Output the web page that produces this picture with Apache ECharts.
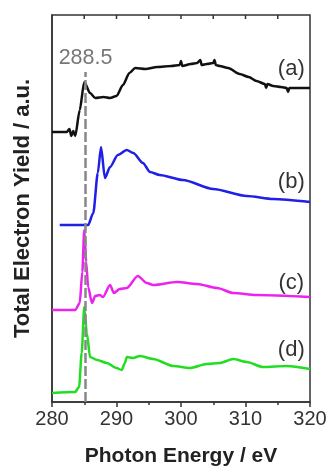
<!DOCTYPE html>
<html>
<head>
<meta charset="utf-8">
<script src="https://cdn.jsdelivr.net/npm/echarts@6/dist/echarts.min.js"></script>
<style>
html, body { margin: 0; padding: 0; background: #fff; }
#chart { width: 329px; height: 466px; }
</style>
</head>
<body>
<div id="chart"></div>
<script>
// spectra as [photon energy (eV), offset intensity (a.u.)]
var curveA = [[280,270],[282.3,270],[282.7,273],[283.0,266],[283.3,271],[283.6,266],[284.3,292],[285.0,320],[285.9,309],[286.7,304],
  [288.0,305],[289.0,304],[290.0,306],[291.0,317],[292.0,329],[292.9,334],[294.5,333],[296.3,335],[298.5,336],[299.8,337],
  [300.0,341],[300.2,336],[301.5,338],[302.5,339],[303.0,342],[303.2,337],[304.0,338],[305.0,339],[305.2,342],[305.4,337],
  [306.0,336],[307.3,334],[309.1,328],[310.5,325],[311.7,321],[313.0,318],[313.2,314],[313.4,318],[314.3,316],[315.5,315],
  [316.4,314],[316.6,310],[316.8,314],[318.0,314],[320,314]];
var curveB = [[281.2,177],[285.6,177],[286.4,189],[287.1,229],[287.6,255],[288.2,224],[289.0,235],[290.2,247],[291.6,252],
  [292.6,249],[294.1,239],[295.2,230],[296.7,227],[300.3,222],[305.0,213],[310.2,206],[314.3,203],[320,200]];
var curveC = [[280,92],[283.6,92],[284.3,99],[284.7,130],[285.0,172],[285.3,140],[285.6,115],[286.2,99],[286.7,106],
  [287.4,107],[287.9,105],[289.0,117],[289.6,109],[290.5,113],[291.6,114],[293.3,126],[294.7,119],[295.7,117],
  [299.4,120],[302.5,118],[305.6,114],[308.1,109],[311.7,107],[320,105]];
var curveD = [[280,9],[283.6,10],[284.2,15],[284.6,49],[285.0,95],[285.4,69],[285.9,45],[287.0,42],[288.5,39],[290.0,34],
  [290.8,32],[291.3,39],[291.6,45],[292.6,44],[293.6,46],[295.7,43],[298.8,36],[301.4,34],[304.0,38],[306.0,39],
  [308.1,43],[310.2,40],[312.7,35],[316.4,36],[320,33]];
var curveNames = ['(a)', '(b)', '(c)', '(d)'];
var curveColors = ['#111111', '#1f1fe6', '#ee22ee', '#22dd22'];
var labelY = [333, 220, 119, 52];
var labelX = 317.1;
var peakEnergy = 285.2;
var peakText = '288.5';
var xTicks = [280, 290, 300, 310, 320];
var topTicks = [285, 290, 295, 300, 305, 310, 315];
var xMin = 280, xMax = 320, yMin = 0, yMax = 387;

var myChart = echarts.init(document.getElementById('chart'));
var font = 'Liberation Sans, Arial, sans-serif';
var axisColor = '#333';

function makeSeries(data, i) {
  return {
    name: curveNames[i],
    type: 'line',
    data: data,
    symbol: 'none',
    smooth: 0.25,
    smoothMonotone: 'x',
    lineStyle: { color: curveColors[i], width: 2.5 },
    z: 3,
    markPoint: {
      symbol: 'circle',
      symbolSize: 0,
      label: { show: true, formatter: curveNames[i], color: '#333', fontSize: 22, fontFamily: font },
      data: [{ coord: [labelX, labelY[i]] }]
    }
  };
}

var series = [curveA, curveB, curveC, curveD].map(makeSeries);
series[0].markLine = {
  symbol: 'none',
  silent: true,
  z: 5,
  lineStyle: { color: '#888', width: 2.5, type: [10, 3] },
  label: { show: true, position: 'end', formatter: peakText, color: '#777', fontSize: 21.5, fontFamily: font, distance: 3 },
  data: [[{ coord: [peakEnergy, 0] }, { coord: [peakEnergy, 330] }]]
};
// plot frame drawn as an outlined area over the full axis extent
series[1].clip = false;
series[1].markArea = {
  silent: true,
  itemStyle: { color: 'rgba(0,0,0,0)', borderColor: axisColor, borderWidth: 1.5 },
  data: [[{ coord: [xMin, yMin] }, { coord: [xMax, yMax] }]]
};

option = {
  animation: false,
  textStyle: { fontFamily: font },
  grid: {
    left: 52, right: 19, top: 15, bottom: 64,
    outerBoundsMode: 'none',
    containLabel: false
  },
  xAxis: {
    type: 'value',
    min: xMin,
    max: xMax,
    interval: 10,
    name: 'Photon Energy / eV',
    nameLocation: 'middle',
    nameGap: 44,
    nameTextStyle: { fontSize: 21, fontWeight: 'bold', color: '#222', fontFamily: font },
    axisLine: { onZero: false, lineStyle: { color: axisColor, width: 1.5 } },
    axisTick: { inside: false, length: 5, lineStyle: { color: axisColor, width: 1.5 } },
    minorTick: { show: true, splitNumber: 2, length: 3, lineStyle: { color: axisColor, width: 1.5 } },
    axisLabel: { fontSize: 20, color: '#333', margin: 7, fontFamily: font,
      formatter: function (v) { return xTicks.indexOf(v) >= 0 ? String(v) : ''; } },
    splitLine: { show: false }
  },
  yAxis: {
    type: 'value',
    min: yMin,
    max: yMax,
    name: 'Total Electron Yield / a.u.',
    nameLocation: 'middle',
    nameGap: 18,
    nameTextStyle: { fontSize: 22, fontWeight: 'bold', color: '#222', fontFamily: font },
    axisLine: { show: true, onZero: false, lineStyle: { color: axisColor, width: 1.5 } },
    axisTick: { show: false },
    axisLabel: { show: false },
    splitLine: { show: false }
  },
  series: series
};
myChart.setOption(option);

// inward ticks along the top edge, placed through the chart's own scales
var topY = myChart.convertToPixel({ gridIndex: 0 }, [xMin, yMax])[1];
var ticks = topTicks.map(function (t) {
  var x = myChart.convertToPixel({ gridIndex: 0 }, [t, yMax])[0];
  return { type: 'line', shape: { x1: x, y1: topY, x2: x, y2: topY + 4 }, style: { stroke: axisColor, lineWidth: 1.5 }, z: 10 };
});
myChart.setOption({ graphic: ticks });
window.addEventListener('resize', function () { myChart.resize(); });
</script>
</body>
</html>
